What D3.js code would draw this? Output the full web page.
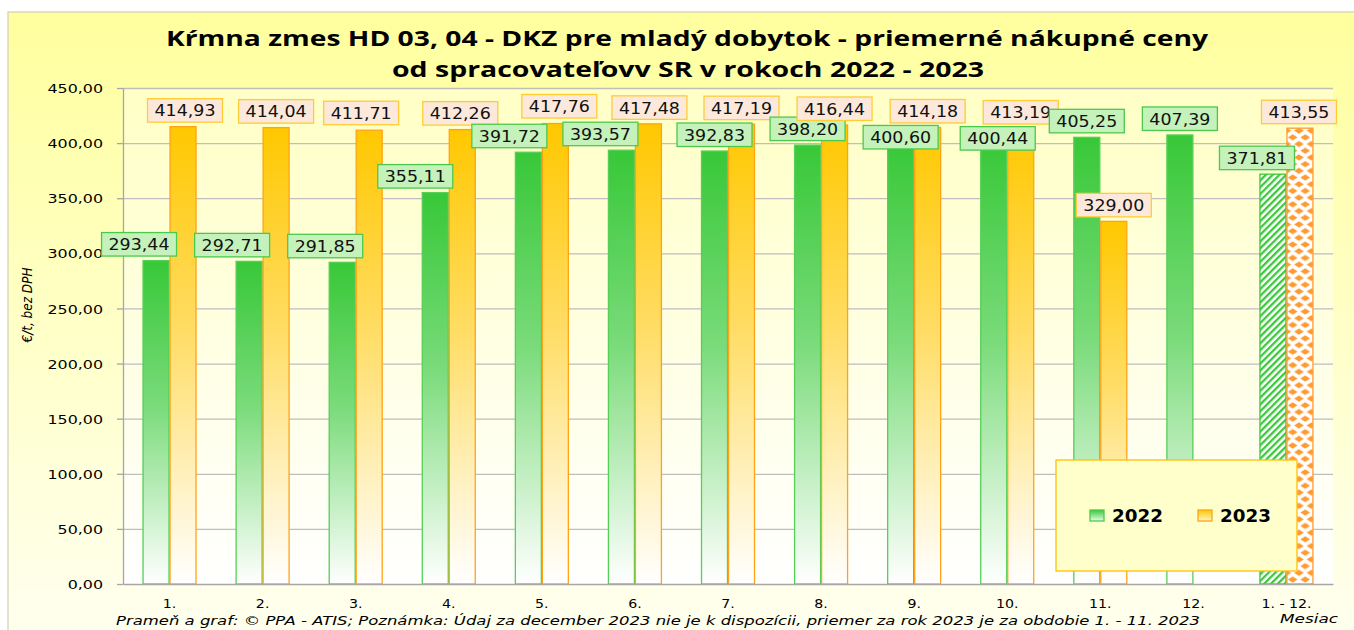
<!DOCTYPE html>
<html><head><meta charset="utf-8">
<script src="https://cdn.jsdelivr.net/npm/d3@7"></script>
<style>body{margin:0;background:#fff}svg{display:block}</style>
</head><body>
<svg id="c" width="1354" height="630"></svg>
<script>
// ---- data ----
const categories = ["1.","2.","3.","4.","5.","6.","7.","8.","9.","10.","11.","12.","1. - 12."];
const seriesNames = ["2022","2023"];
const values2022 = [293.44,292.71,291.85,355.11,391.72,393.57,392.83,398.20,400.60,400.44,405.25,407.39,371.81];
const values2023 = [414.93,414.04,411.71,412.26,417.76,417.48,417.19,416.44,414.18,413.19,329.00,null,413.55];
const yTickValues = [0,50,100,150,200,250,300,350,400,450];
const titleLines = ["Kŕmna zmes HD 03, 04 - DKZ pre mladý dobytok - priemerné nákupné ceny","od spracovateľovv SR v rokoch 2022 - 2023"];
const yAxisTitle = "€/t, bez DPH";
const xAxisTitle = "Mesiac";
const footnote = "Prameň a graf: © PPA - ATIS; Poznámka: Údaj za december 2023 nie je k dispozícii, priemer za rok 2023 je za obdobie 1. - 11. 2023";

// ---- layout (label nudges, px) ----
const labelNudge2022 = [[-17,0],[-17,0],[-17,0],[-20,0],[-19,0],[-21,0],[0,0],[0,0],[0,11],[4,12],[0,0],[0,0],[-16,0]];
const labelNudge2023 = [[2,0],[0,0],[-8,-1],[-2,0],[4,-1],[1,0],[0,0],[0,0],[0,0],[0,0],[0,0],[0,0],[-1,0]];

const svg = d3.select("#c");
const PL=123, PR=1333, PT=88, PB=584;
const fmt = d3.formatLocale({decimal:",",thousands:" ",grouping:[3],currency:["","€"]}).format(".2f");

// ---- scales ----
const y = d3.scaleLinear().domain([0,450]).range([PB,PT]);
const x0 = d3.scaleBand().domain(categories).range([PL,PR]).paddingInner(0.42).paddingOuter(0.21);
const x1 = d3.scaleBand().domain(seriesNames).range([0,x0.bandwidth()]);

const defs = svg.append("defs");
function vgrad(id, stops){
  const g = defs.append("linearGradient").attr("id",id).attr("x1",0).attr("y1",0).attr("x2",0).attr("y2",1);
  stops.forEach(s=>g.append("stop").attr("offset",s[0]).attr("stop-color",s[1]));
}
vgrad("bgGrad",[[0,"#FFFF9E"],[1,"#FFFFF2"]]);
vgrad("plotGrad",[[0,"#FFFFC6"],[1,"#FFFFFF"]]);
vgrad("g22",[[0,"#38C838"],[0.45,"#7ADB7A"],[1,"#FFFFFF"]]);
vgrad("g23",[[0,"#FFC800"],[0.45,"#FFDD66"],[1,"#FFFFFF"]]);
vgrad("lg22",[[0,"#38C838"],[1,"#E8FBE8"]]);
vgrad("lg23",[[0,"#FFC800"],[1,"#FFF4CC"]]);

const hatch = defs.append("pattern").attr("id","hatch22").attr("patternUnits","userSpaceOnUse")
  .attr("width",4.8).attr("height",4.8).attr("patternTransform","rotate(45)");
hatch.append("rect").attr("width",4.8).attr("height",4.8).attr("fill","#fff");
hatch.append("rect").attr("width",2.3).attr("height",4.8).attr("fill","#3CC83C");

const lastCat = categories[categories.length-1];
const diaX = x0(lastCat)+x1("2023");
const dia = defs.append("pattern").attr("id","dia23").attr("patternUnits","userSpaceOnUse")
  .attr("x",diaX).attr("y",0).attr("width",12.5).attr("height",13.4);
dia.append("rect").attr("width",12.5).attr("height",13.4).attr("fill","#fff");
const dpath = (cx,cy)=>`M${cx-4.8},${cy}L${cx},${cy-3.1}L${cx+4.8},${cy}L${cx},${cy+3.1}Z`;
[[6.25,3.35],[0,10.05],[12.5,10.05]].forEach(p=>dia.append("path").attr("d",dpath(p[0],p[1])).attr("fill","#FF9A30"));

// ---- backgrounds ----
svg.append("rect").attr("x",8).attr("y",12).attr("width",1360).attr("height",640)
  .attr("fill","url(#bgGrad)").attr("stroke","#CFCFB8").attr("stroke-width",1.2);
svg.append("rect").attr("x",PL).attr("y",PT).attr("width",PR-PL).attr("height",PB-PT).attr("fill","url(#plotGrad)");

function stretch(sel, f){ sel.each(function(){ const l=this.getComputedTextLength(); d3.select(this).attr("textLength",l*f).attr("lengthAdjust","spacingAndGlyphs"); }); }

// gridlines
const grid = svg.append("g").attr("transform",`translate(${PL},0)`)
  .call(d3.axisLeft(y).tickValues(yTickValues.filter(v=>v>0)).tickSize(-(PR-PL)).tickFormat(""));
grid.select(".domain").remove();
grid.selectAll("line").attr("stroke","#BEBEBE").attr("stroke-width",1.3);

// ---- bars ----
const rows = categories.map((c,i)=>({c,i,v:[values2022[i],values2023[i]]}));
const last = categories.length-1;
const bars = svg.append("g");
rows.forEach(r=>{
  seriesNames.forEach((s,k)=>{
    const v = r.v[k]; if(v==null) return;
    const isAvg = r.i===last;
    const fill = isAvg ? (k===0?"url(#hatch22)":"url(#dia23)") : (k===0?"url(#g22)":"url(#g23)");
    const stroke = k===0 ? (isAvg?"#3CC83C":"#55CF55") : (isAvg?"#FF9A30":"#FFA316");
    bars.append("rect").attr("x",x0(r.c)+x1(s)+0.5).attr("y",y(v)).attr("width",x1.bandwidth()-1).attr("height",y(0)-y(v))
      .attr("fill",fill).attr("stroke",stroke).attr("stroke-width",1.3);
  });
});

// ---- axes ----
const ya = svg.append("g").attr("transform",`translate(${PL},0)`)
  .call(d3.axisLeft(y).tickValues(yTickValues).tickSize(6).tickSizeOuter(0).tickPadding(14).tickFormat(fmt));
ya.select(".domain").attr("stroke","#A6A6A6").attr("stroke-width",1.3);
ya.selectAll("line").attr("stroke","#A6A6A6").attr("stroke-width",1.3);
ya.selectAll("text").attr("font-family","DejaVu Sans").attr("font-size",12.8).attr("fill","#000").attr("dy","0.36em");
stretch(ya.selectAll("text"),1.24);

const xa = svg.append("g").attr("transform",`translate(0,${PB})`)
  .call(d3.axisBottom(x0).tickSize(0).tickSizeOuter(0).tickPadding(15));
xa.select(".domain").attr("stroke","#A6A6A6").attr("stroke-width",1.3);
xa.selectAll("text").attr("font-family","DejaVu Sans").attr("font-size",12).attr("fill","#000");
stretch(xa.selectAll("text"),1.18);

// ---- data labels ----
const lw=75, lh=23.5;
const labels = svg.append("g");
rows.forEach(r=>{
  seriesNames.forEach((s,k)=>{
    const v = r.v[k]; if(v==null) return;
    const nd = (k===0?labelNudge2022:labelNudge2023)[r.i];
    const cx = x0(r.c)+x1(s)+x1.bandwidth()/2 + nd[0];
    const by = y(v) - 4.5 + nd[1];
    const g = labels.append("g");
    g.append("rect").attr("x",cx-lw/2).attr("y",by-lh).attr("width",lw).attr("height",lh)
      .attr("fill",k===0?"#C4F2BA":"#FDE9DC").attr("stroke",k===0?"#4CC94C":"#FFCC33").attr("stroke-width",1.3);
    g.append("text").attr("x",cx).attr("y",by-lh+17.8).attr("text-anchor","middle")
      .attr("font-family","DejaVu Sans").attr("font-size",15.5).attr("fill","#111")
      .attr("textLength",61).attr("lengthAdjust","spacingAndGlyphs").text(fmt(v));
  });
});

// ---- legend ----
const lg = svg.append("g");
lg.append("rect").attr("x",1056).attr("y",460).attr("width",241).attr("height",111)
  .attr("fill","#FFFFCC").attr("stroke","#FFC000").attr("stroke-width",1.3);
[{s:"2022",x:1090,f:"url(#lg22)",st:"#4CC94C"},{s:"2023",x:1198,f:"url(#lg23)",st:"#FFA316"}].forEach(d=>{
  lg.append("rect").attr("x",d.x).attr("y",510).attr("width",14).attr("height",11).attr("fill",d.f).attr("stroke",d.st).attr("stroke-width",1.3);
  lg.append("text").attr("x",d.x+22).attr("y",522).attr("font-family","DejaVu Sans").attr("font-weight","bold")
    .attr("font-size",17.5).attr("fill","#000").attr("textLength",51).attr("lengthAdjust","spacingAndGlyphs").text(d.s);
});

// ---- titles ----
svg.append("text").attr("x",687).attr("y",46).attr("text-anchor","middle").attr("font-family","Open Sans").attr("font-weight","bold")
  .attr("font-size",21).attr("fill","#000").attr("textLength",1042).attr("lengthAdjust","spacingAndGlyphs").text(titleLines[0]);
svg.append("text").attr("x",688).attr("y",77).attr("text-anchor","middle").attr("font-family","Open Sans").attr("font-weight","bold")
  .attr("font-size",21).attr("fill","#000").attr("textLength",592).attr("lengthAdjust","spacingAndGlyphs").text(titleLines[1]);

svg.append("text").attr("transform","translate(32,305) rotate(-90)").attr("text-anchor","middle")
  .attr("font-family","DejaVu Sans Condensed, DejaVu Sans").attr("font-style","italic").attr("font-size",14.5)
  .attr("fill","#000").attr("textLength",75).attr("lengthAdjust","spacingAndGlyphs").text(yAxisTitle);

svg.append("text").attr("x",1309).attr("y",623).attr("text-anchor","middle").attr("font-family","DejaVu Sans").attr("font-style","italic")
  .attr("font-size",12.5).attr("fill","#000").attr("textLength",58).attr("lengthAdjust","spacingAndGlyphs").text(xAxisTitle);

svg.append("text").attr("x",116).attr("y",625).attr("font-family","DejaVu Sans").attr("font-style","italic")
  .attr("font-size",12.5).attr("fill","#000").attr("textLength",1084).attr("lengthAdjust","spacingAndGlyphs").text(footnote);
</script>
</body></html>
